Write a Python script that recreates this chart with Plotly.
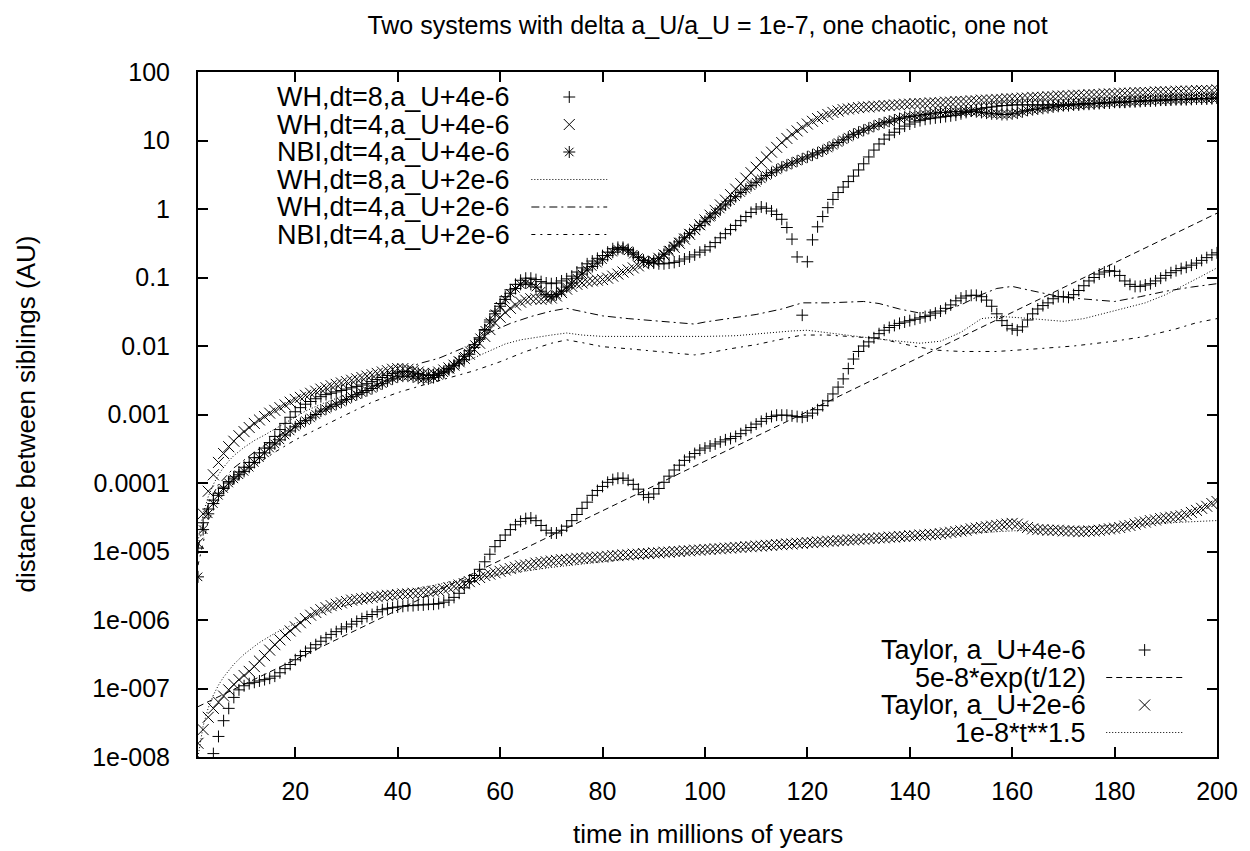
import plotly.graph_objects as go

# ---------------- data (stored as log10 of distance in AU) ----
T_MYR = list(range(1, 201))

WH8_4E6_LOG10 = [
    -4.95, -4.58, -4.38, -4.25, -4.15, -4.06, -3.98, -3.91, -3.84, -3.77,
    -3.70, -3.63, -3.56, -3.49, -3.41, -3.32, -3.22, -3.13, -3.04, -2.96,
    -2.90, -2.85, -2.81, -2.77, -2.74, -2.71, -2.69, -2.67, -2.65, -2.63,
    -2.61, -2.59, -2.57, -2.55, -2.52, -2.49, -2.46, -2.43, -2.40, -2.38,
    -2.37, -2.37, -2.38, -2.40, -2.42, -2.43, -2.42, -2.40, -2.37, -2.33,
    -2.29, -2.25, -2.20, -2.12, -2.02, -1.90, -1.76, -1.62, -1.49, -1.38,
    -1.28, -1.18, -1.10, -1.04, -1.01, -1.01, -1.03, -1.06, -1.08, -1.09,
    -1.08, -1.05, -1.02, -0.98, -0.92, -0.86, -0.80, -0.76, -0.72, -0.68,
    -0.63, -0.58, -0.56, -0.56, -0.59, -0.64, -0.70, -0.75, -0.78, -0.79,
    -0.80, -0.80, -0.79, -0.78, -0.76, -0.73, -0.70, -0.67, -0.63, -0.60,
    -0.55, -0.49, -0.42, -0.36, -0.30, -0.24, -0.17, -0.11, -0.05, 0.00,
    0.03, 0.01, -0.03, -0.08, -0.15, -0.27, -0.44, -0.70, -1.55, -0.77,
    -0.45, -0.26, -0.11, 0.02, 0.14, 0.24, 0.32, 0.40, 0.48, 0.57,
    0.66, 0.76, 0.86, 0.95, 1.02, 1.08, 1.12, 1.17, 1.21, 1.24,
    1.27, 1.29, 1.31, 1.32, 1.33, 1.34, 1.35, 1.36, 1.37, 1.39,
    1.41, 1.43, 1.45, 1.47, 1.48, 1.49, 1.50, 1.51, 1.51, 1.52,
    1.52, 1.52, 1.52, 1.52, 1.52, 1.52, 1.52, 1.52, 1.52, 1.52,
    1.53, 1.53, 1.53, 1.54, 1.54, 1.54, 1.55, 1.55, 1.55, 1.56,
    1.56, 1.56, 1.57, 1.57, 1.57, 1.58, 1.58, 1.58, 1.59, 1.59,
    1.59, 1.60, 1.60, 1.60, 1.60, 1.61, 1.61, 1.61, 1.61, 1.62,
]

WH4_4E6_LOG10 = [
    -4.88, -4.45, -4.12, -3.88, -3.70, -3.57, -3.47, -3.39, -3.31, -3.25,
    -3.19, -3.13, -3.08, -3.03, -2.98, -2.94, -2.90, -2.86, -2.82, -2.78,
    -2.75, -2.72, -2.69, -2.66, -2.63, -2.61, -2.58, -2.56, -2.54, -2.52,
    -2.50, -2.48, -2.46, -2.44, -2.42, -2.40, -2.38, -2.36, -2.34, -2.33,
    -2.33, -2.34, -2.36, -2.38, -2.40, -2.41, -2.40, -2.38, -2.35, -2.32,
    -2.28, -2.23, -2.18, -2.12, -2.05, -1.96, -1.86, -1.76, -1.66, -1.58,
    -1.51, -1.45, -1.40, -1.36, -1.33, -1.31, -1.31, -1.32, -1.31, -1.30,
    -1.27, -1.22, -1.17, -1.13, -1.10, -1.08, -1.06, -1.05, -1.04, -1.03,
    -1.01, -0.98, -0.95, -0.92, -0.89, -0.86, -0.83, -0.80, -0.78, -0.76,
    -0.72, -0.67, -0.62, -0.56, -0.50, -0.44, -0.37, -0.30, -0.23, -0.16,
    -0.09, -0.02, 0.06, 0.13, 0.21, 0.29, 0.37, 0.45, 0.53, 0.61,
    0.68, 0.76, 0.83, 0.90, 0.97, 1.03, 1.09, 1.14, 1.19, 1.24,
    1.28, 1.32, 1.35, 1.38, 1.41, 1.43, 1.45, 1.46, 1.47, 1.48,
    1.49, 1.49, 1.50, 1.50, 1.51, 1.51, 1.52, 1.52, 1.53, 1.53,
    1.54, 1.54, 1.54, 1.55, 1.55, 1.55, 1.56, 1.56, 1.57, 1.57,
    1.57, 1.58, 1.58, 1.59, 1.59, 1.59, 1.60, 1.60, 1.61, 1.61,
    1.61, 1.62, 1.62, 1.63, 1.63, 1.63, 1.64, 1.64, 1.65, 1.65,
    1.65, 1.66, 1.66, 1.66, 1.67, 1.67, 1.67, 1.68, 1.68, 1.68,
    1.69, 1.69, 1.69, 1.70, 1.70, 1.70, 1.70, 1.71, 1.71, 1.71,
    1.71, 1.72, 1.72, 1.72, 1.72, 1.73, 1.73, 1.73, 1.73, 1.74,
]

NBI_4E6_LOG10 = [
    -5.37, -4.68, -4.45, -4.30, -4.18, -4.08, -4.00, -3.94, -3.88, -3.83,
    -3.77, -3.70, -3.63, -3.56, -3.49, -3.43, -3.37, -3.30, -3.24, -3.18,
    -3.13, -3.09, -3.05, -3.00, -2.95, -2.92, -2.88, -2.85, -2.82, -2.78,
    -2.74, -2.71, -2.68, -2.65, -2.62, -2.58, -2.55, -2.51, -2.48, -2.45,
    -2.44, -2.44, -2.45, -2.47, -2.48, -2.48, -2.46, -2.43, -2.39, -2.34,
    -2.28, -2.22, -2.15, -2.07, -1.98, -1.88, -1.77, -1.65, -1.53, -1.42,
    -1.32, -1.23, -1.16, -1.10, -1.08, -1.10, -1.14, -1.20, -1.25, -1.28,
    -1.25, -1.20, -1.14, -1.08, -1.01, -0.95, -0.89, -0.84, -0.79, -0.74,
    -0.68, -0.63, -0.59, -0.58, -0.61, -0.66, -0.71, -0.75, -0.78, -0.76,
    -0.72, -0.66, -0.60, -0.54, -0.48, -0.42, -0.36, -0.30, -0.24, -0.18,
    -0.12, -0.06, 0.00, 0.06, 0.12, 0.18, 0.24, 0.29, 0.34, 0.39,
    0.44, 0.49, 0.53, 0.57, 0.61, 0.64, 0.67, 0.70, 0.73, 0.76,
    0.79, 0.82, 0.85, 0.89, 0.93, 0.97, 1.01, 1.05, 1.09, 1.12,
    1.15, 1.18, 1.21, 1.24, 1.26, 1.28, 1.30, 1.32, 1.34, 1.35,
    1.36, 1.37, 1.38, 1.39, 1.40, 1.41, 1.41, 1.42, 1.42, 1.42,
    1.43, 1.43, 1.42, 1.41, 1.40, 1.39, 1.39, 1.38, 1.38, 1.39,
    1.40, 1.42, 1.44, 1.45, 1.46, 1.47, 1.48, 1.49, 1.50, 1.51,
    1.51, 1.52, 1.52, 1.53, 1.53, 1.54, 1.54, 1.55, 1.55, 1.56,
    1.56, 1.56, 1.57, 1.57, 1.58, 1.58, 1.58, 1.59, 1.59, 1.59,
    1.60, 1.60, 1.60, 1.60, 1.61, 1.61, 1.61, 1.61, 1.62, 1.62,
]

TAYLOR_4E6_LOG10 = [
    -8.90, -8.50, -8.20, -7.95, -7.70, -7.47, -7.29, -7.13, -7.02, -6.96,
    -6.93, -6.91, -6.89, -6.87, -6.85, -6.82, -6.77, -6.71, -6.65, -6.58,
    -6.52, -6.46, -6.41, -6.36, -6.31, -6.26, -6.21, -6.17, -6.13, -6.10,
    -6.06, -6.02, -5.98, -5.95, -5.92, -5.88, -5.85, -5.83, -5.82, -5.81,
    -5.80, -5.79, -5.79, -5.78, -5.78, -5.77, -5.77, -5.76, -5.74, -5.71,
    -5.67, -5.61, -5.53, -5.44, -5.35, -5.26, -5.15, -5.04, -4.93, -4.84,
    -4.76, -4.68, -4.61, -4.56, -4.52, -4.51, -4.55, -4.62, -4.69, -4.73,
    -4.73, -4.69, -4.63, -4.55, -4.46, -4.37, -4.28, -4.18, -4.11, -4.05,
    -3.99, -3.95, -3.93, -3.93, -3.96, -4.02, -4.09, -4.17, -4.21, -4.16,
    -4.08, -3.99, -3.90, -3.81, -3.74, -3.67, -3.62, -3.57, -3.52, -3.49,
    -3.46, -3.43, -3.40, -3.37, -3.35, -3.32, -3.28, -3.23, -3.19, -3.14,
    -3.10, -3.06, -3.03, -3.01, -3.01, -3.01, -3.02, -3.03, -3.04, -3.02,
    -2.98, -2.93, -2.87, -2.80, -2.70, -2.60, -2.48, -2.33, -2.19, -2.08,
    -2.00, -1.94, -1.88, -1.82, -1.77, -1.73, -1.70, -1.67, -1.65, -1.63,
    -1.61, -1.59, -1.57, -1.55, -1.52, -1.49, -1.45, -1.40, -1.34, -1.30,
    -1.27, -1.26, -1.26, -1.28, -1.33, -1.42, -1.53, -1.63, -1.70, -1.75,
    -1.77, -1.72, -1.62, -1.53, -1.46, -1.41, -1.37, -1.31, -1.28, -1.28,
    -1.29, -1.25, -1.19, -1.12, -1.05, -1.00, -0.95, -0.92, -0.90, -0.91,
    -0.97, -1.05, -1.10, -1.13, -1.13, -1.11, -1.09, -1.05, -1.01, -0.97,
    -0.93, -0.90, -0.87, -0.85, -0.82, -0.79, -0.75, -0.71, -0.67, -0.64,
]

TAYLOR_2E6_LOG10 = [
    -7.80, -7.60, -7.42, -7.29, -7.20, -7.11, -7.02, -6.94, -6.87, -6.81,
    -6.75, -6.68, -6.60, -6.52, -6.44, -6.36, -6.29, -6.22, -6.16, -6.10,
    -6.04, -5.98, -5.93, -5.89, -5.85, -5.82, -5.79, -5.77, -5.75, -5.73,
    -5.71, -5.70, -5.69, -5.68, -5.67, -5.66, -5.65, -5.64, -5.64, -5.63,
    -5.62, -5.62, -5.61, -5.61, -5.60, -5.59, -5.58, -5.57, -5.55, -5.53,
    -5.51, -5.49, -5.47, -5.44, -5.41, -5.38, -5.35, -5.33, -5.31, -5.29,
    -5.27, -5.25, -5.23, -5.21, -5.20, -5.19, -5.17, -5.16, -5.15, -5.14,
    -5.13, -5.12, -5.12, -5.11, -5.10, -5.10, -5.09, -5.09, -5.08, -5.08,
    -5.07, -5.06, -5.06, -5.05, -5.05, -5.04, -5.04, -5.03, -5.03, -5.02,
    -5.02, -5.01, -5.01, -5.00, -5.00, -4.99, -4.99, -4.98, -4.98, -4.97,
    -4.97, -4.96, -4.96, -4.95, -4.95, -4.94, -4.94, -4.93, -4.93, -4.92,
    -4.92, -4.91, -4.91, -4.90, -4.90, -4.89, -4.89, -4.88, -4.88, -4.87,
    -4.87, -4.86, -4.86, -4.85, -4.85, -4.84, -4.84, -4.83, -4.83, -4.82,
    -4.82, -4.81, -4.81, -4.80, -4.80, -4.79, -4.79, -4.78, -4.78, -4.77,
    -4.77, -4.76, -4.76, -4.75, -4.75, -4.74, -4.73, -4.72, -4.71, -4.70,
    -4.69, -4.67, -4.66, -4.65, -4.64, -4.63, -4.62, -4.61, -4.60, -4.59,
    -4.60, -4.63, -4.65, -4.67, -4.68, -4.68, -4.69, -4.69, -4.69, -4.70,
    -4.70, -4.70, -4.71, -4.71, -4.70, -4.70, -4.69, -4.68, -4.67, -4.66,
    -4.65, -4.63, -4.62, -4.60, -4.58, -4.57, -4.55, -4.54, -4.52, -4.51,
    -4.50, -4.49, -4.48, -4.46, -4.43, -4.40, -4.37, -4.34, -4.30, -4.27,
]

# non-chaotic system (a_U + 2e-6), drawn as lines
WH8_2E6_T = [1, 2, 3, 4, 5, 6, 7, 8, 10, 12, 14, 16, 18, 20, 22,
             25, 28, 31, 34, 37, 40, 43, 46, 49, 52, 55, 58, 61, 64, 67, 70, 73, 76,
             80, 85, 90, 96, 100, 106, 112, 117, 120, 124, 128, 133, 138, 142, 146,
             150, 154, 158, 162, 166, 170, 174, 178, 182, 186, 190, 194, 197, 200]
WH8_2E6_LOG10 = [-4.85, -4.45, -4.20, -4.02, -3.88, -3.77, -3.68, -3.60, -3.48, -3.38, -3.30,
                 -3.21, -3.12, -3.03, -2.95,
                 -2.85, -2.76, -2.68, -2.60, -2.53, -2.46, -2.42, -2.40, -2.35, -2.28, -2.17,
                 -2.07, -1.97, -1.91, -1.87, -1.84, -1.81, -1.84,
                 -1.86, -1.86, -1.86, -1.87, -1.86, -1.85, -1.81, -1.78, -1.77, -1.81, -1.85,
                 -1.89, -1.93, -1.96, -1.93,
                 -1.80, -1.60, -1.57, -1.59, -1.62, -1.64, -1.60, -1.52, -1.45, -1.37, -1.25,
                 -1.10, -0.98, -0.86]

WH4_2E6_T = [1, 3, 5, 8, 12, 16, 20, 25, 30, 35, 40, 44, 48, 52, 55, 58, 62, 66, 70, 73,
             76, 80, 85, 90, 95, 98, 100, 105, 110, 115, 119, 124, 128, 131, 134, 138, 142,
             146, 150, 154, 157, 160, 163, 166, 170, 175, 180, 185, 190, 195, 200]
WH4_2E6_LOG10 = [-4.95, -4.30, -4.02, -3.78, -3.55, -3.35, -3.15, -2.95, -2.78, -2.60,
                 -2.42, -2.26, -2.18, -2.06, -1.96, -1.80, -1.67, -1.57, -1.49, -1.45,
                 -1.50, -1.56, -1.60, -1.63, -1.67, -1.68, -1.65, -1.60, -1.54, -1.46,
                 -1.37, -1.37, -1.36, -1.35, -1.38, -1.46, -1.52, -1.49, -1.40, -1.25,
                 -1.16, -1.13, -1.18, -1.23, -1.29, -1.32, -1.35, -1.28, -1.20, -1.14, -1.09]

NBI_2E6_T = [1, 3, 5, 8, 12, 16, 20, 25, 30, 35, 40, 45, 50, 55, 60, 65, 70, 73, 76, 80,
             85, 90, 95, 98, 100, 105, 110, 115, 119, 124, 130, 134, 140, 145, 150, 157,
             165, 172, 180, 186, 192, 196, 200]
NBI_2E6_LOG10 = [-5.20, -4.55, -4.25, -4.00, -3.75, -3.55, -3.37, -3.18, -3.00, -2.82,
                 -2.68, -2.57, -2.47, -2.36, -2.23, -2.08, -1.96, -1.91, -1.95, -2.01,
                 -2.04, -2.07, -2.11, -2.13, -2.11, -2.04, -1.98, -1.90, -1.84, -1.84,
                 -1.87, -1.89, -1.99, -2.06, -2.08, -2.08, -2.04, -2.00, -1.93, -1.86,
                 -1.75, -1.66, -1.60]

# reference curves 5e-8*exp(t/12) and 1e-8*t**1.5 (values as plotted)
EXP_FIT_T = [1, 200]
EXP_FIT_AU = [5.43e-8, 8.68e-1]
POW_FIT_T = [1, 2, 3, 4, 5, 6, 8, 10, 13, 16, 20, 25, 30, 40, 50, 60, 70, 80, 90, 100,
             120, 140, 160, 180, 200]
POW_FIT_AU = [1.0e-8, 2.83e-8, 5.20e-8, 8.0e-8, 1.12e-7, 1.47e-7, 2.26e-7, 3.16e-7,
              4.69e-7, 6.4e-7, 8.94e-7, 1.25e-6, 1.64e-6, 2.53e-6, 3.54e-6, 4.65e-6,
              5.86e-6, 7.16e-6, 8.54e-6, 1.0e-5, 1.31e-5, 1.66e-5, 2.02e-5, 2.41e-5, 2.83e-5]

X_TICK_VALS = [20, 40, 60, 80, 100, 120, 140, 160, 180, 200]
X_TICK_TEXT = ["20", "40", "60", "80", "100", "120", "140", "160", "180", "200"]
Y_TICK_VALS = [1e-8, 1e-7, 1e-6, 1e-5, 1e-4, 1e-3, 1e-2, 1e-1, 1, 10, 100]
Y_TICK_TEXT = ["1e-008", "1e-007", "1e-006", "1e-005", "0.0001", "0.001", "0.01", "0.1",
               "1", "10", "100"]

# ---------------- styling ----------------
FONT = "Liberation Sans, Arial, Helvetica, sans-serif"
INK = "#000000"
FS_TICK = 25
FS_KEY = 27
FS_TITLE = 25
FS_AXTITLE = 26
W, H = 1250, 851
PL, PR, PT, PB = 198, 1219, 72, 757          # plot area in pixels

SYM = {"+": ("cross-thin", 8.5), "x": ("x-thin", 11), "*": ("asterisk", 10)}
DASH = {
    "dot": "1px,2px",
    "wh4": "8px,4px,2px,4px",
    "nbi": "4px,5px,2px,5px",
    "dash": "6px,4px",
}

fig = go.Figure()


def to_au(logs):
    return [10 ** v for v in logs]


def add_points(t, logs, key, name):
    sym, size = SYM[key]
    fig.add_trace(go.Scatter(
        x=t, y=to_au(logs), mode="markers", name=name, showlegend=False,
        marker=dict(symbol=sym, size=size, color=INK, line=dict(color=INK, width=1)),
    ))


def add_line(t, y, dash, name):
    fig.add_trace(go.Scatter(
        x=t, y=y, mode="lines", name=name, showlegend=False,
        line=dict(color=INK, width=1, dash=DASH[dash]),
    ))


add_points(T_MYR, WH8_4E6_LOG10, "+", "WH,dt=8,a_U+4e-6")
add_points(T_MYR, WH4_4E6_LOG10, "x", "WH,dt=4,a_U+4e-6")
add_points(T_MYR, NBI_4E6_LOG10, "*", "NBI,dt=4,a_U+4e-6")
add_line(WH8_2E6_T, to_au(WH8_2E6_LOG10), "dot", "WH,dt=8,a_U+2e-6")
add_line(WH4_2E6_T, to_au(WH4_2E6_LOG10), "wh4", "WH,dt=4,a_U+2e-6")
add_line(NBI_2E6_T, to_au(NBI_2E6_LOG10), "nbi", "NBI,dt=4,a_U+2e-6")
add_points(T_MYR, TAYLOR_4E6_LOG10, "+", "Taylor, a_U+4e-6")
add_line(EXP_FIT_T, EXP_FIT_AU, "dash", "5e-8*exp(t/12)")
add_points(T_MYR, TAYLOR_2E6_LOG10, "x", "Taylor, a_U+2e-6")
add_line(POW_FIT_T, POW_FIT_AU, "dot", "1e-8*t**1.5")

# ---------------- gnuplot-style keys (text right-aligned, sample to the right) ----------------
KEY1_ENTRIES = [("WH,dt=8,a_U+4e-6", "+"), ("WH,dt=4,a_U+4e-6", "x"), ("NBI,dt=4,a_U+4e-6", "*"),
                ("WH,dt=8,a_U+2e-6", "dot"), ("WH,dt=4,a_U+2e-6", "wh4"), ("NBI,dt=4,a_U+2e-6", "nbi")]
KEY2_ENTRIES = [("Taylor, a_U+4e-6", "+"), ("5e-8*exp(t/12)", "dash"),
                ("Taylor, a_U+2e-6", "x"), ("1e-8*t**1.5", "dot")]
KEY1 = dict(text_right=513, sample=(532, 608), top=97, step=27.5)
KEY2 = dict(text_right=1090, sample=(1108, 1185), top=650, step=27.5)

annotations = []


def draw_key(entries, geo):
    for i, (label, style) in enumerate(entries):
        yy = geo["top"] + i * geo["step"]
        annotations.append(dict(
            x=geo["text_right"], y=yy, xref="x2", yref="y2", text=label, showarrow=False,
            xanchor="right", yanchor="middle", font=dict(family=FONT, size=FS_KEY, color=INK)))
        x0, x1 = geo["sample"]
        if style in SYM:
            sym, size = SYM[style]
            fig.add_trace(go.Scatter(
                x=[(x0 + x1) / 2], y=[yy], xaxis="x2", yaxis="y2", mode="markers",
                showlegend=False, hoverinfo="skip",
                marker=dict(symbol=sym, size=size, color=INK, line=dict(color=INK, width=1))))
        else:
            fig.add_trace(go.Scatter(
                x=[x0, x1], y=[yy, yy], xaxis="x2", yaxis="y2", mode="lines",
                showlegend=False, hoverinfo="skip",
                line=dict(color=INK, width=1, dash=DASH[style])))


draw_key(KEY1_ENTRIES, KEY1)
draw_key(KEY2_ENTRIES, KEY2)

# axis titles
annotations.append(dict(text="time in millions of years", xref="paper", yref="paper",
                        x=0.5, y=0, yshift=-(834 - PB), xanchor="center", yanchor="middle",
                        showarrow=False, font=dict(family=FONT, size=FS_AXTITLE, color=INK)))
annotations.append(dict(text="distance between siblings (AU)", xref="paper", yref="paper",
                        x=0, y=0.5, xshift=-(PL - 25), xanchor="center", yanchor="middle",
                        textangle=-90, showarrow=False,
                        font=dict(family=FONT, size=FS_AXTITLE, color=INK)))

axis_common = dict(showline=True, linecolor=INK, linewidth=2, mirror="ticks",
                   ticks="inside", ticklen=10, tickwidth=2, tickcolor=INK,
                   showgrid=False, zeroline=False,
                   tickfont=dict(family=FONT, size=FS_TICK, color=INK))

fig.update_layout(
    width=W, height=H, autosize=False,
    margin=dict(l=PL, r=W - PR, t=PT, b=H - PB, pad=0),
    paper_bgcolor="white", plot_bgcolor="white",
    font=dict(family=FONT, size=FS_TICK, color=INK),
    title=dict(text="Two systems with delta a_U/a_U = 1e-7, one chaotic, one not",
               x=0.5, xref="paper", xanchor="center",
               y=1 - 25 / H, yref="container", yanchor="middle",
               font=dict(family=FONT, size=FS_TITLE, color=INK)),
    xaxis=dict(range=[1, 200], tickmode="array", tickvals=X_TICK_VALS, ticktext=X_TICK_TEXT,
               ticklabelstandoff=11, **axis_common),
    yaxis=dict(type="log", range=[-8, 2], tickmode="array", tickvals=Y_TICK_VALS,
               ticktext=Y_TICK_TEXT, ticklabelstandoff=21, **axis_common),
    xaxis2=dict(overlaying="x", range=[PL, PR], visible=False, anchor="y2"),
    yaxis2=dict(overlaying="y", range=[PB, PT], visible=False, anchor="x2"),
    annotations=annotations,
    showlegend=False,
)

fig.write_html("out.html")
